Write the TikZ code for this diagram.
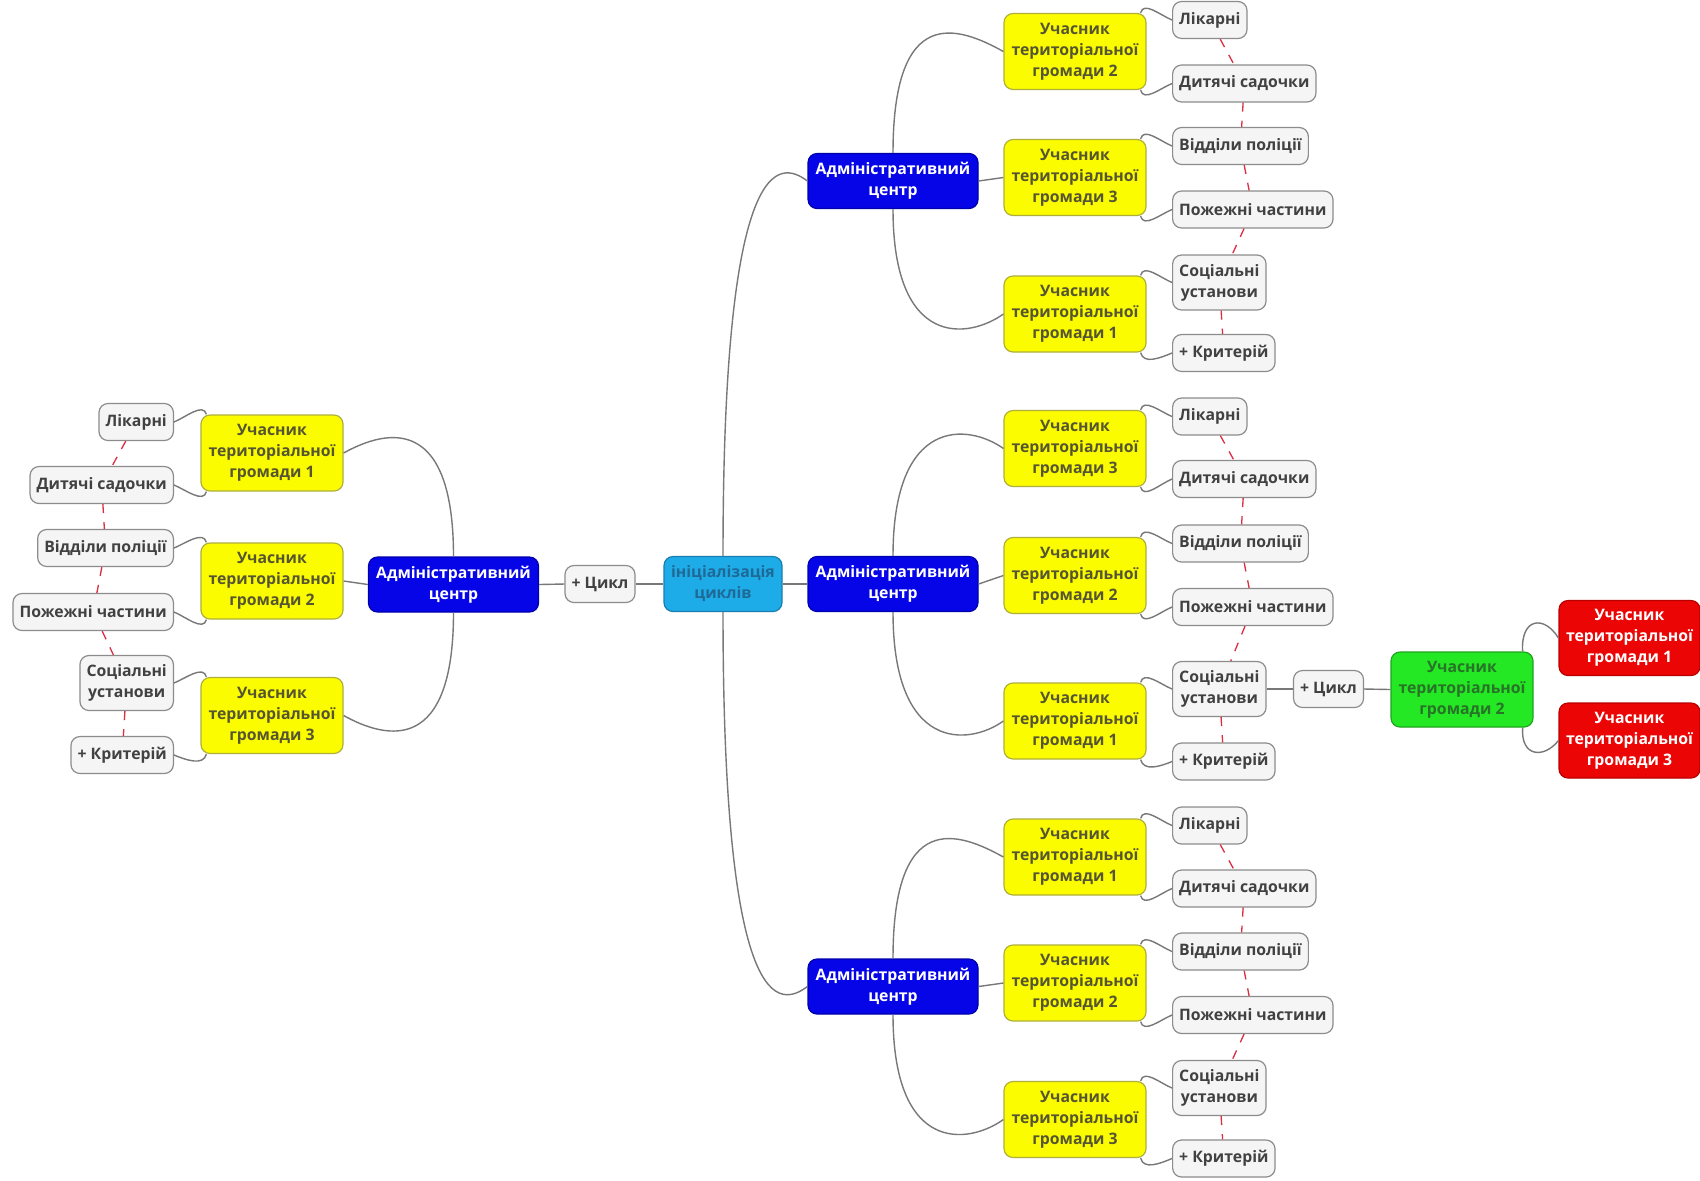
\documentclass[tikz,border=0pt]{standalone}
\usepackage{fontspec}
\setmainfont{Open Sans}
\usepackage{tikz}

\definecolor{linkgrey}{RGB}{120,120,120}
\definecolor{relred}{RGB}{220,45,65}
\definecolor{greyfill}{RGB}{245,245,245}
\definecolor{greyline}{RGB}{140,140,140}
\definecolor{greytext}{RGB}{65,65,65}
\definecolor{yelfill}{RGB}{252,252,0}
\definecolor{yelline}{RGB}{175,175,60}
\definecolor{yeltext}{RGB}{85,85,50}
\definecolor{admfill}{RGB}{5,5,232}
\definecolor{admline}{RGB}{0,0,170}
\definecolor{initfill}{RGB}{30,172,232}
\definecolor{initline}{RGB}{25,125,175}
\definecolor{inittext}{RGB}{30,105,150}
\definecolor{grnfill}{RGB}{35,232,35}
\definecolor{grnline}{RGB}{30,165,30}
\definecolor{grntext}{RGB}{40,115,40}
\definecolor{redfill}{RGB}{235,5,5}
\definecolor{redline}{RGB}{185,0,0}

\begin{document}
\begin{tikzpicture}[x=0.5pt, y=-0.5pt,
    box/.style={rounded corners=4.5pt, line width=0.6pt, align=center, inner sep=0pt,
        font=\fontsize{7.9}{10.5}\selectfont\bfseries},
    greybox/.style={box, draw=greyline, fill=greyfill, text=greytext, inner xsep=3.3pt, minimum height=18.5pt},
    twobox/.style={greybox, minimum height=27.5pt},
    yelbox/.style={box, draw=yelline, fill=yelfill, text=yeltext, minimum width=71pt, minimum height=38pt},
    admbox/.style={box, draw=admline, fill=admfill, text=white, minimum width=85pt, minimum height=27.5pt},
    initbox/.style={box, draw=initline, fill=initfill, text=inittext, minimum width=59pt, minimum height=27.5pt},
    grnbox/.style={box, draw=grnline, fill=grnfill, text=grntext, minimum width=71pt, minimum height=37.5pt},
    redbox/.style={box, draw=redline, fill=redfill, text=white, minimum width=70.5pt, minimum height=37.5pt},
    link/.style={draw=linkgrey, line width=0.7pt},
    rel/.style={draw=relred, line width=0.65pt, dash pattern=on 4.5pt off 4.5pt}]

    \path[fill=white, use as bounding box] (0,0) rectangle (1700,1180);

    % Centre
    \node[initbox] (init) at (723,584) {ініціалізація\\циклів};
    \node[greybox] (cycleL) at (600,584) {+ Цикл};
    \node[admbox] (adminL) at (453.5,584.5) {Адміністративний\\центр};
    \node[admbox] (adminT) at (893,181) {Адміністративний\\центр};
    \node[admbox] (adminM) at (893,584) {Адміністративний\\центр};
    \node[admbox] (adminB) at (893,986.5) {Адміністративний\\центр};

    \draw[link] (init.west) -- (cycleL.east);
    \draw[link] (cycleL.west) -- (adminL.east);
    \draw[link] (init.east) -- (adminM.west);
    \draw[link] (init.north) .. controls +(0,-407) and +(-28,-21) .. (adminT.west);
    \draw[link] (init.south) .. controls +(0,407) and +(-28,21) .. (adminB.west);

    % Left group
    \node[yelbox] (yL1) at (272,453) {Учасник\\територіальної\\громади 1};
    \node[yelbox] (yL2) at (272,581) {Учасник\\територіальної\\громади 2};
    \node[yelbox] (yL3) at (272,715.5) {Учасник\\територіальної\\громади 3};
    \node[greybox, anchor=east] (hospL) at (174,422) {Лікарні};
    \node[greybox, anchor=east] (kinderL) at (174,485) {Дитячі садочки};
    \node[greybox, anchor=east] (policeL) at (174,548) {Відділи поліції};
    \node[greybox, anchor=east] (fireL) at (174,612) {Пожежні частини};
    \node[twobox, anchor=east] (socialL) at (174,683) {Соціальні\\установи};
    \node[greybox, anchor=east] (critL) at (174,755) {+ Критерій};

    \draw[link] (adminL.north) .. controls +(0,-140) and +(45,-25) .. (yL1.east);
    \draw[link] (adminL.west) -- (yL2.east);
    \draw[link] (adminL.south) .. controls +(0,140) and +(45,25) .. (yL3.east);
    \draw[link] ([xshift=3pt]yL1.north west) .. controls +(-3,-12) and +(12,-5) .. (hospL.east);
    \draw[link] ([xshift=3pt]yL1.south west) .. controls +(-3,12) and +(12,5) .. (kinderL.east);
    \draw[link] ([xshift=3pt]yL2.north west) .. controls +(-3,-12) and +(12,-5) .. (policeL.east);
    \draw[link] ([xshift=3pt]yL2.south west) .. controls +(-3,12) and +(12,5) .. (fireL.east);
    \draw[link] ([xshift=3pt]yL3.north west) .. controls +(-3,-12) and +(12,-5) .. (socialL.east);
    \draw[link] ([xshift=3pt]yL3.south west) .. controls +(-3,12) and +(12,5) .. (critL.east);
    \draw[rel] (hospL) -- (kinderL);
    \draw[rel] (kinderL) -- (policeL);
    \draw[rel] (policeL) -- (fireL);
    \draw[rel] (fireL) -- (socialL);
    \draw[rel] (socialL) -- (critL);

    % Top group
    \node[yelbox] (yT2) at (1075,51.5) {Учасник\\територіальної\\громади 2};
    \node[yelbox] (yT3) at (1075,177.5) {Учасник\\територіальної\\громади 3};
    \node[yelbox] (yT1) at (1075,314) {Учасник\\територіальної\\громади 1};
    \node[greybox, anchor=west] (hospT) at (1172,20) {Лікарні};
    \node[greybox, anchor=west] (kinderT) at (1172,83.5) {Дитячі садочки};
    \node[greybox, anchor=west] (policeT) at (1172,146) {Відділи поліції};
    \node[greybox, anchor=west] (fireT) at (1172,209.5) {Пожежні частини};
    \node[twobox, anchor=west] (socialT) at (1172,282.5) {Соціальні\\установи};
    \node[greybox, anchor=west] (critT) at (1172,353) {+ Критерій};

    \draw[link] (adminT.north) .. controls +(0,-150) and +(-45,-25) .. (yT2.west);
    \draw[link] (adminT.east) -- (yT3.west);
    \draw[link] (adminT.south) .. controls +(0,140) and +(-35,25) .. (yT1.west);
    \draw[link] ([xshift=-3pt]yT2.north east) .. controls +(3,-12) and +(-12,-5) .. (hospT.west);
    \draw[link] ([xshift=-3pt]yT2.south east) .. controls +(3,12) and +(-12,5) .. (kinderT.west);
    \draw[link] ([xshift=-3pt]yT3.north east) .. controls +(3,-12) and +(-12,-5) .. (policeT.west);
    \draw[link] ([xshift=-3pt]yT3.south east) .. controls +(3,12) and +(-12,5) .. (fireT.west);
    \draw[link] ([xshift=-3pt]yT1.north east) .. controls +(3,-12) and +(-12,-5) .. (socialT.west);
    \draw[link] ([xshift=-3pt]yT1.south east) .. controls +(3,12) and +(-12,5) .. (critT.west);
    \draw[rel] (hospT) -- (kinderT);
    \draw[rel] (kinderT) -- (policeT);
    \draw[rel] (policeT) -- (fireT);
    \draw[rel] (fireT) -- (socialT);
    \draw[rel] (socialT) -- (critT);

    % Middle group
    \node[yelbox] (yM3) at (1075,448.5) {Учасник\\територіальної\\громади 3};
    \node[yelbox] (yM2) at (1075,575.5) {Учасник\\територіальної\\громади 2};
    \node[yelbox] (yM1) at (1075,721) {Учасник\\територіальної\\громади 1};
    \node[greybox, anchor=west] (hospM) at (1172,416.5) {Лікарні};
    \node[greybox, anchor=west] (kinderM) at (1172,479) {Дитячі садочки};
    \node[greybox, anchor=west] (policeM) at (1172,543.5) {Відділи поліції};
    \node[greybox, anchor=west] (fireM) at (1172,607) {Пожежні частини};
    \node[twobox, anchor=west] (socialM) at (1172,689) {Соціальні\\установи};
    \node[greybox, anchor=west] (critM) at (1172,761.5) {+ Критерій};
    \node[greybox] (cycleM) at (1328.5,689) {+ Цикл};
    \node[grnbox] (grnM) at (1462,689.5) {Учасник\\територіальної\\громади 2};
    \node[redbox] (redM1) at (1629.5,638) {Учасник\\територіальної\\громади 1};
    \node[redbox] (redM3) at (1629.5,740.5) {Учасник\\територіальної\\громади 3};

    \draw[link] (adminM.north) .. controls +(0,-140) and +(-35,-25) .. (yM3.west);
    \draw[link] (adminM.east) -- (yM2.west);
    \draw[link] (adminM.south) .. controls +(0,140) and +(-35,25) .. (yM1.west);
    \draw[link] ([xshift=-3pt]yM3.north east) .. controls +(3,-12) and +(-12,-5) .. (hospM.west);
    \draw[link] ([xshift=-3pt]yM3.south east) .. controls +(3,12) and +(-12,5) .. (kinderM.west);
    \draw[link] ([xshift=-3pt]yM2.north east) .. controls +(3,-12) and +(-12,-5) .. (policeM.west);
    \draw[link] ([xshift=-3pt]yM2.south east) .. controls +(3,12) and +(-12,5) .. (fireM.west);
    \draw[link] ([xshift=-3pt]yM1.north east) .. controls +(3,-12) and +(-12,-5) .. (socialM.west);
    \draw[link] ([xshift=-3pt]yM1.south east) .. controls +(3,12) and +(-12,5) .. (critM.west);
    \draw[link] (socialM.east) -- (cycleM.west);
    \draw[link] (cycleM.east) -- (grnM.west);
    \draw[link] ([xshift=-5.5pt]grnM.north east) .. controls +(-2,-34) and +(-14,-23) .. (redM1.west);
    \draw[link] ([xshift=-5.5pt]grnM.south east) .. controls +(-2,30) and +(-14,18) .. (redM3.west);
    \draw[rel] (hospM) -- (kinderM);
    \draw[rel] (kinderM) -- (policeM);
    \draw[rel] (policeM) -- (fireM);
    \draw[rel] (fireM) -- (socialM);
    \draw[rel] (socialM) -- (critM);

    % Bottom group
    \node[yelbox] (yB1) at (1075,857) {Учасник\\територіальної\\громади 1};
    \node[yelbox] (yB2) at (1075,983) {Учасник\\територіальної\\громади 2};
    \node[yelbox] (yB3) at (1075,1119.5) {Учасник\\територіальної\\громади 3};
    \node[greybox, anchor=west] (hospB) at (1172,825.5) {Лікарні};
    \node[greybox, anchor=west] (kinderB) at (1172,888.5) {Дитячі садочки};
    \node[greybox, anchor=west] (policeB) at (1172,951.5) {Відділи поліції};
    \node[greybox, anchor=west] (fireB) at (1172,1015) {Пожежні частини};
    \node[twobox, anchor=west] (socialB) at (1172,1088) {Соціальні\\установи};
    \node[greybox, anchor=west] (critB) at (1172,1158.5) {+ Критерій};

    \draw[link] (adminB.north) .. controls +(0,-150) and +(-45,-25) .. (yB1.west);
    \draw[link] (adminB.east) -- (yB2.west);
    \draw[link] (adminB.south) .. controls +(0,140) and +(-35,25) .. (yB3.west);
    \draw[link] ([xshift=-3pt]yB1.north east) .. controls +(3,-12) and +(-12,-5) .. (hospB.west);
    \draw[link] ([xshift=-3pt]yB1.south east) .. controls +(3,12) and +(-12,5) .. (kinderB.west);
    \draw[link] ([xshift=-3pt]yB2.north east) .. controls +(3,-12) and +(-12,-5) .. (policeB.west);
    \draw[link] ([xshift=-3pt]yB2.south east) .. controls +(3,12) and +(-12,5) .. (fireB.west);
    \draw[link] ([xshift=-3pt]yB3.north east) .. controls +(3,-12) and +(-12,-5) .. (socialB.west);
    \draw[link] ([xshift=-3pt]yB3.south east) .. controls +(3,12) and +(-12,5) .. (critB.west);
    \draw[rel] (hospB) -- (kinderB);
    \draw[rel] (kinderB) -- (policeB);
    \draw[rel] (policeB) -- (fireB);
    \draw[rel] (fireB) -- (socialB);
    \draw[rel] (socialB) -- (critB);
\end{tikzpicture}
\end{document}
